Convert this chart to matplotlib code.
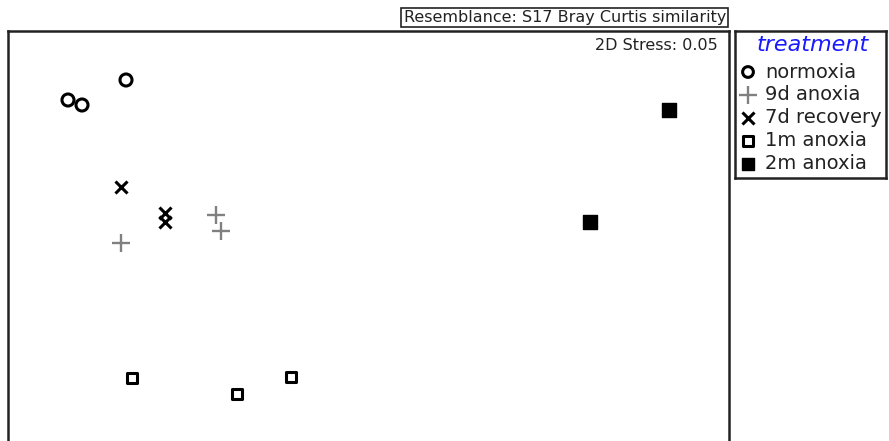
import matplotlib.pyplot as plt

plt.rcParams['font.family'] = ['DejaVu Sans']

# nMDS coordinates
normoxia_x = [-1.17, -1.46, -1.39]
normoxia_y = [0.85, 0.75, 0.725]
anox9d_x = [-1.195, -0.72, -0.695]
anox9d_y = [0.035, 0.175, 0.095]
recov7d_x = [-1.195, -0.975, -0.975]
recov7d_y = [0.315, 0.185, 0.14]
anox1m_x = [-1.14, -0.615, -0.345]
anox1m_y = [-0.64, -0.72, -0.635]
anox2m_x = [1.545, 1.15]
anox2m_y = [0.70, 0.14]

labels = ['normoxia', '9d anoxia', '7d recovery', '1m anoxia', '2m anoxia']
title_text = 'Resemblance: S17 Bray Curtis similarity'
stress_text = '2D Stress: 0.05'

W, H = 889, 441
fig = plt.figure(figsize=(W / 100, H / 100), dpi=100)

# main plot box (bottom runs off the image)
ax = fig.add_axes([8 / W, (H - 445) / H, (729 - 8) / W, (445 - 31) / H])
ax.set_xlim(-1.76, 1.845)
ax.set_ylim(-0.975, 1.095)
ax.set_xticks([])
ax.set_yticks([])
for s in ax.spines.values():
    s.set_linewidth(1.8)
    s.set_color('#222222')

styles = [
    dict(marker='o', s=75, facecolors='none', edgecolors='black', linewidths=2.2),
    dict(marker='+', s=150, color='#808080', linewidths=1.7),
    dict(marker='x', s=75, color='black', linewidths=2.2),
    dict(marker='s', s=60, facecolors='none', edgecolors='black', linewidths=2.2),
    dict(marker='s', s=90, color='black'),
]
series = [(normoxia_x, normoxia_y), (anox9d_x, anox9d_y), (recov7d_x, recov7d_y),
          (anox1m_x, anox1m_y), (anox2m_x, anox2m_y)]
for (xs, ys), st in zip(series, styles):
    ax.scatter(xs, ys, **st)

ax.text(0.985, 0.964, stress_text, transform=ax.transAxes, ha='right', va='center',
        fontsize=11.5, color='#222222')

# header box
fig.text(726 / W, 1 - 17.5 / H, title_text, ha='right', va='center', fontsize=11.5,
         color='#222222',
         bbox=dict(boxstyle='square,pad=0.15', facecolor='white', edgecolor='#222222',
                   linewidth=1.2))

# legend box, laid out by hand
lw_px, lh_px = 886 - 735, 178 - 31
lax = fig.add_axes([735 / W, 1 - 178 / H, lw_px / W, lh_px / H])
lax.set_xlim(0, lw_px)
lax.set_ylim(lh_px, 0)
lax.set_xticks([])
lax.set_yticks([])
for s in lax.spines.values():
    s.set_linewidth(1.8)
    s.set_color('#222222')

lax.text(lw_px / 2 + 2, 14, 'treatment', ha='center', va='center', fontsize=16,
         style='italic', color='#1a1aff')
leg_st = [dict(st) for st in styles]
leg_st[0]['s'] = 60
leg_st[3]['s'] = 45
leg_st[4]['s'] = 70
for i, (lab, st) in enumerate(zip(labels, leg_st)):
    y = 41 + 23 * i
    lax.scatter([13], [y], clip_on=False, **st)
    lax.text(30, y, lab, ha='left', va='center', fontsize=14, color='#222222')

fig.savefig('out.png', dpi=100)
